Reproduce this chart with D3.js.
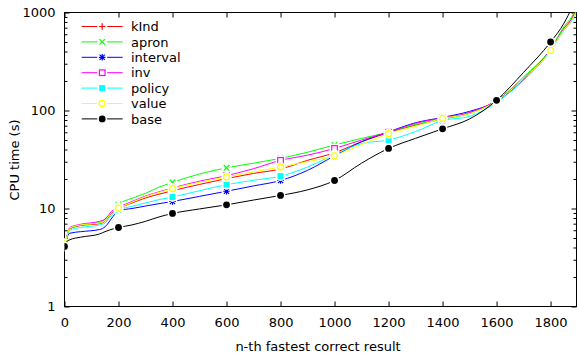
<!DOCTYPE html>
<html><head><meta charset="utf-8">
<script src="https://cdn.jsdelivr.net/npm/d3@7"></script>
<style>body{margin:0;background:#fff}svg{display:block}text{font-family:"DejaVu Sans",sans-serif;}</style>
</head><body><svg id="c" width="577" height="358"></svg>
<script>
const ranks = [0, 5, 20, 60, 130, 150, 180, 200, 250, 300, 350, 400, 500, 600, 700, 800, 900, 1000, 1100, 1200, 1300, 1400, 1500, 1600, 1700, 1800, 1850, 1880, 1910];
const kInd     = [4.4, 4.8, 6.2, 6.7, 7.0, 7.4, 9.3, 10.0, 11.4, 12.8, 14.0, 15.2, 17.6, 20.2, 22.8, 25.3, 31.0, 37.0, 48, 59.5, 71, 82, 95, 126, 212, 420, 690, 880, 1350];
const apron    = [4.4, 4.8, 6.3, 6.8, 7.2, 7.7, 9.6, 11.0, 12.7, 14.3, 16.5, 18.5, 22.5, 26.0, 29.0, 32.5, 37.5, 44.5, 52, 60, 72, 82, 93, 126, 220, 425, 720, 920, 1400];
const interval = [4.4, 4.8, 5.6, 5.8, 6.1, 6.5, 8.3, 9.5, 10.0, 10.6, 11.2, 11.8, 13.3, 15.0, 17.0, 19.3, 24.5, 34.5, 48, 60.5, 75, 85, 98, 124, 208, 415, 680, 860, 1300];
const inv      = [4.4, 4.8, 6.4, 6.9, 7.4, 7.8, 9.7, 10.3, 11.8, 13.4, 14.8, 16.2, 19.0, 21.6, 25.5, 31.0, 35.0, 41.0, 50, 60, 74, 84, 95, 127, 210, 418, 685, 870, 1320];
const policy   = [4.4, 4.8, 6.0, 6.4, 6.8, 7.1, 8.9, 9.7, 10.5, 11.4, 12.3, 13.1, 15.2, 17.5, 19.4, 21.4, 26.5, 35.5, 46, 50, 61, 79, 87, 121, 203, 405, 660, 830, 1250];
const value    = [4.4, 4.8, 6.3, 6.8, 7.1, 7.5, 9.5, 10.1, 11.6, 13.2, 14.6, 16.0, 18.5, 21.0, 23.6, 26.5, 30.0, 34.5, 45, 58, 69, 83, 93, 125, 211, 410, 675, 850, 1280];
const base     = [4.1, 4.5, 4.8, 5.1, 5.5, 5.8, 6.2, 6.4, 6.8, 7.4, 8.2, 8.9, 9.9, 10.9, 12.2, 13.6, 15.5, 19.3, 29, 41, 52, 65, 82, 127, 245, 500, 780, 1150, 2000];
const seriesNames = ["kInd", "apron", "interval", "inv", "policy", "value", "base"];
const seriesValues = [kInd, apron, interval, inv, policy, value, base];
const seriesColors = ["#ff0000", "#00ff00", "#0000ff", "#ff00ff", "#00ffff", "#ffff00", "#000000"];
const seriesMarkers = ["plus", "cross", "star", "sqOpen", "sqFill", "ciOpen", "ciFill"];
const xTicks = [0, 200, 400, 600, 800, 1000, 1200, 1400, 1600, 1800];
const yTicks = [1, 10, 100, 1000];
const markEvery = 200;

const svg = d3.select("#c");
const L = 64.5, R = 576.5, T = 12.5, B = 306.5;
const x = d3.scaleLinear().domain([0, 1896]).range([L, R]);
const y = d3.scaleLog().domain([1, 1000]).range([B, T]);

svg.append("defs").append("clipPath").attr("id", "clip")
  .append("rect").attr("x", L).attr("y", T).attr("width", R - L).attr("height", B - T);

const minor = [];
for (let d = 1; d < 1000; d *= 10) for (let k = 2; k <= 9; k++) minor.push(d * k);

const fontSize = "13px";
function styleAxis(g) { g.select(".domain").remove(); g.selectAll("line").attr("stroke", "#000"); g.selectAll("text").attr("font-size", fontSize).attr("fill", "#000").attr("font-family", "DejaVu Sans"); }

svg.append("g").attr("transform", `translate(0,${B})`)
  .call(d3.axisBottom(x).tickValues(xTicks).tickSize(-5).tickPadding(11.5).tickFormat(d3.format("d"))).call(styleAxis);
svg.append("g").attr("transform", `translate(0,${T})`)
  .call(d3.axisTop(x).tickValues(xTicks).tickSize(-5).tickFormat("")).call(styleAxis);
svg.append("g").attr("transform", `translate(${L},0)`)
  .call(d3.axisLeft(y).tickValues(yTicks).tickSize(-5).tickPadding(9).tickFormat(d3.format("d"))).call(styleAxis);
svg.append("g").attr("transform", `translate(${L},0)`)
  .call(d3.axisLeft(y).tickValues(minor).tickSize(-3).tickFormat("")).call(styleAxis);
svg.append("g").attr("transform", `translate(${R},0)`)
  .call(d3.axisRight(y).tickValues(yTicks).tickSize(-5).tickFormat("")).call(styleAxis);
svg.append("g").attr("transform", `translate(${R},0)`)
  .call(d3.axisRight(y).tickValues(minor).tickSize(-3).tickFormat("")).call(styleAxis);

svg.append("rect").attr("x", L).attr("y", T).attr("width", R - L).attr("height", B - T)
  .attr("fill", "none").attr("stroke", "#000").attr("stroke-width", 1);

svg.append("text").attr("x", 318).attr("y", 351).attr("text-anchor", "middle").attr("font-size", fontSize).text("n-th fastest correct result");
svg.append("text").attr("transform", "translate(19,160) rotate(-90)").attr("text-anchor", "middle").attr("font-size", fontSize).text("CPU time (s)");

const BLANK = 5;
function drawMarker(g, type, cx, cy, color) {
  const s = 3.3;
  const sw = 1.2;
  if (type === "plus") g.append("path").attr("d", `M${cx - s},${cy}H${cx + s}M${cx},${cy - s}V${cy + s}`).attr("stroke", color).attr("stroke-width", sw).attr("fill", "none");
  else if (type === "cross") g.append("path").attr("d", `M${cx - 2.8},${cy - 2.8}L${cx + 2.8},${cy + 2.8}M${cx - 2.8},${cy + 2.8}L${cx + 2.8},${cy - 2.8}`).attr("stroke", color).attr("stroke-width", sw).attr("fill", "none");
  else if (type === "star") g.append("path").attr("d", `M${cx - s},${cy}H${cx + s}M${cx},${cy - s}V${cy + s}M${cx - 2.6},${cy - 2.6}L${cx + 2.6},${cy + 2.6}M${cx - 2.6},${cy + 2.6}L${cx + 2.6},${cy - 2.6}`).attr("stroke", color).attr("stroke-width", sw).attr("fill", "none");
  else if (type === "sqOpen") g.append("rect").attr("x", cx - 2.8).attr("y", cy - 2.8).attr("width", 5.6).attr("height", 5.6).attr("stroke", color).attr("stroke-width", sw).attr("fill", "none");
  else if (type === "sqFill") g.append("rect").attr("x", cx - 3).attr("y", cy - 3).attr("width", 6).attr("height", 6).attr("fill", color);
  else if (type === "ciOpen") g.append("circle").attr("cx", cx).attr("cy", cy).attr("r", 3).attr("stroke", color).attr("stroke-width", 1.3).attr("fill", "none");
  else if (type === "ciFill") g.append("circle").attr("cx", cx).attr("cy", cy).attr("r", 3.4).attr("fill", color);
}

const line = d3.line().x(d => x(d[0])).y(d => y(d[1])).curve(d3.curveMonotoneX);
const plot = svg.append("g").attr("clip-path", "url(#clip)");
seriesValues.forEach((vals, i) => {
  const pts = ranks.map((r, j) => [r, vals[j]]);
  plot.append("path").datum(pts).attr("d", line).attr("fill", "none")
    .attr("stroke", seriesColors[i]).attr("stroke-width", 1);
  pts.filter(p => p[0] % markEvery === 0 && p[1] < 1000).forEach(p => {
    plot.append("circle").attr("cx", x(p[0])).attr("cy", y(p[1])).attr("r", BLANK).attr("fill", "#fff");
    drawMarker(plot, seriesMarkers[i], x(p[0]), y(p[1]), seriesColors[i]);
  });
});

const leg = svg.append("g");
seriesNames.forEach((name, i) => {
  const cy = 26.5 + i * 15.4;
  leg.append("line").attr("x1", 81.7).attr("x2", 122.7).attr("y1", cy).attr("y2", cy).attr("stroke", seriesColors[i]);
  leg.append("circle").attr("cx", 102.2).attr("cy", cy).attr("r", BLANK).attr("fill", "#fff");
  drawMarker(leg, seriesMarkers[i], 102.2, cy, seriesColors[i]);
  leg.append("text").attr("x", 131).attr("y", cy + 4.6).attr("font-size", fontSize).text(name);
});
</script></body></html>
